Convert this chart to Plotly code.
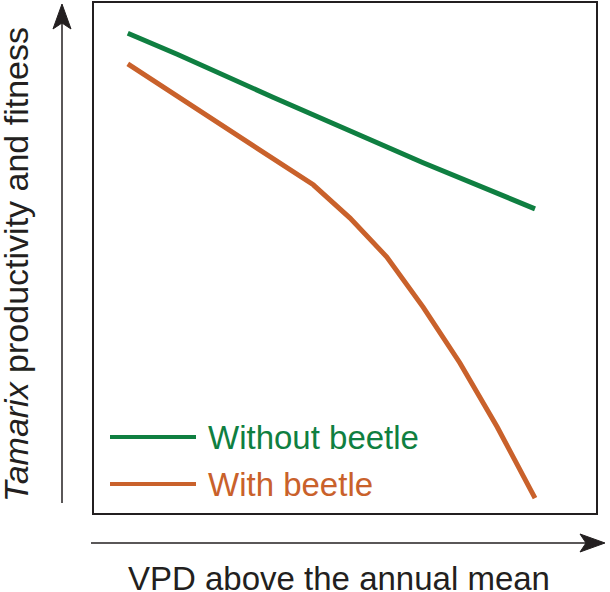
import plotly.graph_objects as go

# Data (arbitrary units; x 0-100 across the box, y 0-100 up the box)
x_without = [6.9, 16.7, 35.7, 55.6, 65.5, 87.7]
y_without = [93.9, 89.8, 81.4, 72.9, 68.6, 59.6]

x_with = [6.9, 16.7, 27.8, 35.7, 43.7, 51.0, 58.3, 65.5, 72.8, 80.2, 87.7]
y_with = [87.9, 81.6, 74.4, 69.3, 64.3, 57.8, 50.2, 40.4, 29.5, 17.0, 3.1]

series_names = ["Without beetle", "With beetle"]
green = "#0f7f41"
orange = "#c9612b"
ink = "#231f20"
font_family = "Liberation Sans, Arial, Helvetica, sans-serif"

fig = go.Figure()
fig.add_trace(go.Scatter(x=x_without, y=y_without, mode="lines",
                         line=dict(color=green, width=5), name=series_names[0],
                         showlegend=False))
fig.add_trace(go.Scatter(x=x_with, y=y_with, mode="lines",
                         line=dict(color=orange, width=5), name=series_names[1],
                         showlegend=False))

W, H = 610, 592
ml, mr, mt, mb = 93, 13, 2, 78
pw, ph = W - ml - mr, H - mt - mb

def px(xp):
    return (xp - ml) / pw

def py(yp):
    return (H - mb - yp) / ph

def ppath(points):
    return "M " + " L ".join(f"{px(a):.5f},{py(b):.5f}" for a, b in points) + " Z"

shapes = [
    dict(type="rect", xref="paper", yref="paper", x0=0, x1=1, y0=0, y1=1,
         line=dict(color=ink, width=2)),
    # legend lines
    dict(type="line", xref="paper", yref="paper", x0=px(110), x1=px(196),
         y0=py(437), y1=py(437), line=dict(color=green, width=4)),
    dict(type="line", xref="paper", yref="paper", x0=px(110), x1=px(196),
         y0=py(484), y1=py(484), line=dict(color=orange, width=4)),
    # axis arrows (decoration)
    dict(type="line", xref="paper", yref="paper", x0=px(62), x1=px(62),
         y0=py(503), y1=py(22), line=dict(color=ink, width=1.5)),
    dict(type="path", xref="paper", yref="paper",
         path=ppath([(62, 4), (71, 29), (62, 23), (53, 29)]),
         fillcolor=ink, line=dict(color=ink, width=1)),
    dict(type="line", xref="paper", yref="paper", x0=px(91), x1=px(586),
         y0=py(543), y1=py(543), line=dict(color=ink, width=1.5)),
    dict(type="path", xref="paper", yref="paper",
         path=ppath([(605, 543), (580, 552), (586, 543), (580, 534)]),
         fillcolor=ink, line=dict(color=ink, width=1)),
]

annotations = [
    dict(text=series_names[0], xref="paper", yref="paper", x=px(206), y=py(437),
         xanchor="left", yanchor="middle", showarrow=False,
         font=dict(family=font_family, size=33, color=green)),
    dict(text=series_names[1], xref="paper", yref="paper", x=px(206), y=py(484),
         xanchor="left", yanchor="middle", showarrow=False,
         font=dict(family=font_family, size=33, color=orange)),
    # axis titles
    dict(text="VPD above the annual mean", xref="paper", yref="paper",
         x=px(339), y=py(578), xanchor="center", yanchor="middle", showarrow=False,
         font=dict(family=font_family, size=33, color=ink)),
    dict(text="<i>Tamarix</i> productivity and fitness", xref="paper", yref="paper",
         x=px(16), y=py(265), xanchor="center", yanchor="middle", showarrow=False,
         textangle=-90, font=dict(family=font_family, size=34, color=ink)),
]

fig.update_layout(
    width=W, height=H,
    margin=dict(l=ml, r=mr, t=mt, b=mb, pad=0),
    paper_bgcolor="white", plot_bgcolor="white",
    xaxis=dict(range=[0, 100], showgrid=False, zeroline=False, showticklabels=False,
               ticks="", showline=False, fixedrange=True),
    yaxis=dict(range=[0, 100], showgrid=False, zeroline=False, showticklabels=False,
               ticks="", showline=False, fixedrange=True),
    shapes=shapes, annotations=annotations, showlegend=False,
)

fig.write_html("out.html", config={"displayModeBar": False},
               post_script="document.body.style.margin='0';document.body.style.overflow='hidden';")
